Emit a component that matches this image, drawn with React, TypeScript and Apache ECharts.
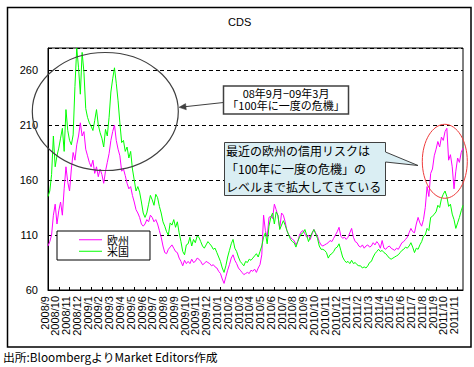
import React, { useEffect, useRef } from "react";
import * as echarts from "echarts";

const months = [
  "2008/9", "2008/10", "2008/11", "2008/12",
  "2009/1", "2009/2", "2009/3", "2009/4", "2009/5", "2009/6", "2009/7", "2009/8", "2009/9", "2009/10", "2009/11", "2009/12",
  "2010/1", "2010/2", "2010/3", "2010/4", "2010/5", "2010/6", "2010/7", "2010/8", "2010/9", "2010/10", "2010/11", "2010/12",
  "2011/1", "2011/2", "2011/3", "2011/4", "2011/5", "2011/6", "2011/7", "2011/8", "2011/9", "2011/10", "2011/11",
];

// 欧州 CDS (six readings per month)
const euro2008 = [
  100, 104, 110, 128, 138, 120,
  132, 140, 128, 152, 172, 158,
  150, 170, 185, 178, 192, 200,
  212, 200, 204, 188, 182, 176,
];
const euro2009 = [
  172, 178, 166, 172, 163, 170,
  165, 157, 168, 176, 184, 196,
  204, 210, 196, 188, 182, 168,
  170, 164, 157, 152, 154, 146,
  140, 133, 130, 126, 120, 118,
  120, 124, 122, 128, 126, 122,
  124, 120, 114, 108, 100, 94,
  93, 97, 99, 101, 98, 95,
  94, 89, 86, 82, 87, 84,
  86, 84, 88, 85, 86, 89,
  88, 86, 83, 84, 86, 85,
  84, 82, 83, 81, 80, 77,
];
const euro2010 = [
  75, 70, 66, 72, 78, 83,
  89, 92, 87, 84, 80, 78,
  76, 74, 75, 76, 75, 78,
  77, 79, 76, 80, 83, 92,
  128, 114, 108, 126, 127, 125,
  138, 133, 127, 116, 130, 128,
  122, 114, 110, 108, 106, 105,
  101, 104, 110, 113, 114, 111,
  108, 110, 106, 111, 115, 112,
  109, 104, 101, 100, 101, 102,
  103, 105, 104, 107, 110, 113,
  117, 109, 107, 108, 106, 108,
];
const euro2011 = [
  112, 116, 108, 104, 103, 100,
  99, 101, 98, 100, 101, 99,
  100, 103, 101, 104, 102, 98,
  105, 98, 97, 99, 100, 98,
  97, 96, 98, 97, 100, 103,
  104, 106, 108, 112, 116, 113,
  112, 120, 126, 121, 118, 124,
  135, 154, 145, 166, 170, 182,
  188, 195, 190, 199, 196, 204,
  207, 178, 183, 172, 152, 168,
  180, 176, 185, 189,
];

// 米国 CDS (six readings per month)
const usa2008 = [
  145, 150, 165, 200, 172, 182,
  189, 198, 207, 186, 224, 205,
  196, 192, 201, 245, 280, 262,
  238, 276, 258, 225, 217, 212,
];
const usa2009 = [
  209, 205, 214, 224, 210, 203,
  198, 190, 206, 200, 217, 240,
  252, 262, 248, 232, 212, 194,
  196, 186, 190, 180, 186, 170,
  160, 150, 154, 149, 140, 130,
  126, 130, 138, 146, 142, 137,
  147, 144, 136, 130, 122, 118,
  113, 110, 121, 119, 124, 117,
  122, 112, 104, 95, 92, 101,
  102, 108, 100, 106, 103, 109,
  108, 104, 100, 98, 101, 104,
  102, 100, 97, 98, 94, 90,
];
const usa2010 = [
  86, 80, 76, 82, 90, 96,
  102, 106, 98, 95, 90, 86,
  84, 82, 86, 85, 88, 87,
  89, 91, 93, 90, 95, 100,
  108, 112, 102, 118, 126, 130,
  120, 131, 128, 115, 119, 123,
  119, 114, 110, 106, 104, 103,
  99, 104, 108, 111, 112, 115,
  110, 104, 108, 112, 115, 111,
  107, 100, 97, 97, 96, 94,
  89, 92, 93, 95, 98, 99,
  102, 96, 90, 87, 85, 86,
];
const usa2011 = [
  84, 87, 84, 85, 83, 82,
  82, 80, 81, 80, 82, 85,
  86, 90, 93, 95, 97, 95,
  96, 94, 93, 91, 89, 88,
  89, 90, 91, 92, 94, 96,
  97, 99, 98, 100, 103, 99,
  94, 98, 97, 101, 104, 109,
  110, 116, 114, 126, 127, 129,
  131, 137, 135, 143, 147, 150,
  145, 136, 138, 129, 124, 116,
  121, 126, 132, 137,
];

const seriesNames = ["欧州", "米国"];
const yTicks = { min: 60, max: 280, interval: 50 };

const NUM_FONT = '"Liberation Sans", Arial, sans-serif';
const JP_FONT = '"Noto Sans CJK JP", sans-serif';

export default function App() {
  const ref = useRef<HTMLDivElement>(null);

  useEffect(() => {
    if (!ref.current) return;
    const chart = echarts.init(ref.current, null, { renderer: "svg" });
    const euro = [...euro2008, ...euro2009, ...euro2010, ...euro2011];
    const usa = [...usa2008, ...usa2009, ...usa2010, ...usa2011];
    const perMonth = 6;
    const cats = euro.map((_, i) => `${months[Math.floor(i / perMonth)]}#${i % perMonth}`);
    const isMonthStart = (i: number) => i % perMonth === 0;

    const option: any = {
      animation: false,
      backgroundColor: "#fff",
      title: {
        text: "CDS",
        left: 228,
        top: 16,
        padding: 0,
        textStyle: { fontSize: 11, fontWeight: "normal", color: "#000", fontFamily: NUM_FONT },
      },
      legend: {
        data: seriesNames,
        orient: "vertical",
        left: 57,
        top: 231,
        padding: [3, 21, 3, 22],
        itemGap: 0,
        itemWidth: 23,
        itemHeight: 1,
        icon: "rect",
        borderColor: "#000",
        borderWidth: 1,
        backgroundColor: "#fff",
        textStyle: { fontSize: 11, lineHeight: 11.5, color: "#000", fontFamily: JP_FONT },
      },
      grid: {
        left: 48,
        top: 48,
        right: 11,
        bottom: 77,
        show: true,
        borderColor: "#000",
        borderWidth: 1,
        backgroundColor: "transparent",
      },
      xAxis: {
        type: "category",
        data: cats,
        boundaryGap: false,
        axisLine: { show: true, lineStyle: { color: "#000", width: 1 } },
        axisTick: {
          show: true,
          inside: true,
          length: 3,
          interval: (i: number) => isMonthStart(i),
          lineStyle: { color: "#000" },
        },
        axisLabel: {
          interval: 0,
          rotate: 90,
          margin: 6,
          fontSize: 11,
          lineHeight: 7,
          verticalAlign: "bottom",
          color: "#000",
          fontFamily: NUM_FONT,
          formatter: (v: string) => {
            const [m, j] = v.split("#");
            return j === "0" ? m : "";
          },
        },
        splitLine: { show: false },
      },
      yAxis: {
        type: "value",
        min: yTicks.min,
        max: yTicks.max,
        interval: yTicks.interval,
        axisLine: { show: true, lineStyle: { color: "#000" } },
        axisTick: { show: false },
        axisLabel: {
          showMaxLabel: false,
          margin: 10,
          fontSize: 11,
          color: "#000",
          fontFamily: NUM_FONT,
        },
        splitLine: { show: true, lineStyle: { color: "#000", type: [4, 3], width: 1 } },
      },
      series: [
        {
          name: seriesNames[0],
          type: "line",
          data: euro,
          showSymbol: false,
          symbol: "none",
          lineStyle: { color: "#FF00FF", width: 1 },
          itemStyle: { color: "#FF00FF" },
        },
        {
          name: seriesNames[1],
          type: "line",
          data: usa,
          showSymbol: false,
          symbol: "none",
          lineStyle: { color: "#00FF00", width: 1 },
          itemStyle: { color: "#00FF00" },
        },
      ],
      graphic: {
        elements: [
          {
            type: "rect",
            z: 100,
            shape: { x: 7.5, y: 7.5, width: 463.5, height: 339.5 },
            style: { fill: "none", stroke: "#000", lineWidth: 1.5 },
          },
          {
            type: "ellipse",
            z: 100,
            shape: { cx: 105.3, cy: 111.5, rx: 73, ry: 59 },
            style: { fill: "none", stroke: "#404040", lineWidth: 1.2 },
          },
          {
            type: "line",
            z: 100,
            shape: { x1: 223.5, y1: 102.5, x2: 184, y2: 106.8 },
            style: { stroke: "#404040", lineWidth: 1 },
          },
          {
            type: "polygon",
            z: 100,
            shape: { points: [[179, 107.3], [186.3, 109.8], [185.6, 103.6]] },
            style: { fill: "#404040", stroke: "#404040", lineWidth: 0.5 },
          },
          {
            type: "rect",
            z: 100,
            shape: { x: 223.5, y: 86, width: 125, height: 28 },
            style: { fill: "#fff", stroke: "#404040", lineWidth: 1.5 },
          },
          {
            type: "text",
            z: 101,
            x: 286,
            y: 93.3,
            style: {
              text: "08年9月−09年3月",
              font: '11px "Noto Sans CJK JP", sans-serif',
              fill: "#000",
              align: "center",
              verticalAlign: "middle",
              lineHeight: 11,
            },
          },
          {
            type: "text",
            z: 101,
            x: 286,
            y: 105.2,
            style: {
              text: "「100年に一度の危機」",
              font: '11px "Noto Sans CJK JP", sans-serif',
              fill: "#000",
              align: "center",
              verticalAlign: "middle",
              lineHeight: 11,
            },
          },
          {
            type: "polygon",
            z: 100,
            shape: {
              points: [
                [224.5, 142.5], [385.5, 142.5], [385.5, 152], [418, 165.5],
                [385.5, 162], [385.5, 195.5], [224.5, 195.5],
              ],
            },
            style: { fill: "#DAEEF3", stroke: "#404040", lineWidth: 1 },
          },
          {
            type: "text",
            z: 101,
            x: 226,
            y: 141.8,
            style: {
              text: "最近の欧州の信用リスクは\n「100年に一度の危機」の\nレベルまで拡大してきている",
              font: '12px "Noto Sans CJK JP", sans-serif',
              fill: "#000",
              align: "left",
              verticalAlign: "top",
              lineHeight: 17.7,
            },
          },
          {
            type: "ellipse",
            z: 100,
            shape: { cx: 444.8, cy: 161.3, rx: 22.5, ry: 37 },
            style: { fill: "none", stroke: "#EE3B3B", lineWidth: 1 },
          },
          {
            type: "text",
            z: 101,
            x: 3,
            y: 350.5,
            style: {
              text: "出所:BloombergよりMarket Editors作成",
              font: '11.8px "Noto Sans CJK JP", sans-serif',
              fill: "#000",
              align: "left",
              verticalAlign: "top",
            },
          },
        ],
      },
    };

    chart.setOption(option);
    return () => chart.dispose();
  }, []);

  return (
    <div
      ref={ref}
      style={{ position: "absolute", left: 0, top: 0, width: 474, height: 367, background: "#fff" }}
    />
  );
}
